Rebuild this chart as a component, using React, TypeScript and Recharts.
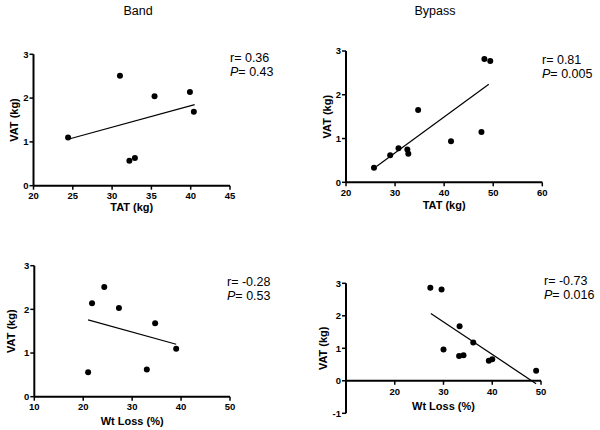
import { ScatterChart, Scatter, XAxis, YAxis, ReferenceLine, ReferenceDot } from 'recharts'

type Pt = { x: number; y: number }

const FONT = '"Liberation Sans", Arial, sans-serif'

// Band, VAT vs TAT
const bandTat: Pt[] = [
  { x: 24.4, y: 1.1 }, { x: 31.0, y: 2.51 }, { x: 32.2, y: 0.57 }, { x: 32.9, y: 0.63 },
  { x: 35.4, y: 2.04 }, { x: 39.9, y: 2.14 }, { x: 40.4, y: 1.69 },
]
const bandTatFit: Pt[] = [{ x: 24.4, y: 1.06 }, { x: 40.5, y: 1.85 }]

// Bypass, VAT vs TAT
const bypassTat: Pt[] = [
  { x: 25.7, y: 0.33 }, { x: 29.0, y: 0.62 }, { x: 30.7, y: 0.78 }, { x: 32.5, y: 0.75 },
  { x: 32.7, y: 0.65 }, { x: 34.7, y: 1.65 }, { x: 41.4, y: 0.94 }, { x: 47.6, y: 1.15 },
  { x: 48.2, y: 2.82 }, { x: 49.4, y: 2.77 },
]
const bypassTatFit: Pt[] = [{ x: 26.2, y: 0.36 }, { x: 49.1, y: 2.24 }]

// Band, VAT vs Wt loss
const bandLoss: Pt[] = [
  { x: 21.0, y: 0.56 }, { x: 21.8, y: 2.14 }, { x: 24.3, y: 2.51 }, { x: 27.3, y: 2.03 },
  { x: 33.0, y: 0.62 }, { x: 34.7, y: 1.68 }, { x: 39.0, y: 1.1 },
]
const bandLossFit: Pt[] = [{ x: 21.0, y: 1.76 }, { x: 39.0, y: 1.2 }]

// Bypass, VAT vs Wt loss
const bypassLoss: Pt[] = [
  { x: 27.3, y: 2.86 }, { x: 29.6, y: 2.81 }, { x: 30.0, y: 0.96 }, { x: 33.3, y: 1.68 },
  { x: 33.2, y: 0.76 }, { x: 34.1, y: 0.79 }, { x: 36.1, y: 1.18 }, { x: 39.3, y: 0.62 },
  { x: 40.0, y: 0.66 }, { x: 49.0, y: 0.31 },
]
const bypassLossFit: Pt[] = [{ x: 27.4, y: 2.07 }, { x: 49.0, y: -0.09 }]

const tatBandTicks = [20, 25, 30, 35, 40, 45]
const tatBypassTicks = [20, 30, 40, 50, 60]
const lossBandTicks = [10, 20, 30, 40, 50]
const lossBypassTicks = [20, 30, 40, 50]
const vatTicks = [0, 1, 2, 3]
const vatTicksNeg = [-1, 0, 1, 2, 3]

const axisLine = { stroke: '#000', strokeWidth: 2 }
const tickLine = { stroke: '#000', strokeWidth: 1.5 }
const tickStyle = { fill: '#000', fontSize: 9.5, fontWeight: 'bold', fontFamily: FONT }
const labelStyle = { fill: '#000', fontSize: 11, fontWeight: 'bold', fontFamily: FONT }

const dot = (p: any) => <circle cx={p.cx} cy={p.cy} r={3} fill="#000" />
const noDot = () => <g />

function Panel(props: {
  left: number; top: number; width: number; height: number
  margin: { top: number; right: number; bottom: number; left: number }
  points: Pt[]; fit: Pt[]
  xDomain: number[]; xTicks: number[]; xLabel: string; xLabelOffset: number; xHeight: number
  yDomain: number[]; yTicks: number[]; yLabelOffset: number
  zeroAxis?: boolean
}) {
  const p = props
  const z = !!p.zeroAxis
  return (
    <div style={{ position: 'absolute', left: p.left, top: p.top }}>
      <ScatterChart width={p.width} height={p.height} margin={p.margin}>
        <XAxis
          type="number" dataKey="x" domain={p.xDomain} ticks={p.xTicks} allowDataOverflow interval={0}
          height={p.xHeight}
          axisLine={z ? false : axisLine} tickLine={z ? false : tickLine} tick={z ? false : tickStyle}
          tickSize={4} tickMargin={3}
          label={z ? undefined : { value: p.xLabel, position: 'insideBottom', offset: p.xLabelOffset, style: labelStyle }}
        />
        <YAxis
          type="number" dataKey="y" domain={p.yDomain} ticks={p.yTicks} width={26} allowDataOverflow interval={0}
          axisLine={axisLine} tickLine={tickLine} tick={tickStyle} tickSize={4} tickMargin={1}
          label={{ value: 'VAT (kg)', angle: -90, position: 'insideLeft', offset: p.yLabelOffset, style: { ...labelStyle, textAnchor: 'middle' } }}
        />
        {z && (
          <ReferenceLine
            y={0} stroke="#000" strokeWidth={2}
            label={{ value: p.xLabel, position: 'bottom', offset: 21, style: labelStyle }}
          />
        )}
        {z && p.xTicks.map((t) => (
          <ReferenceDot
            key={t} x={t} y={0} r={0}
            shape={(s: any) => (
              <g>
                <line x1={s.cx} y1={s.cy} x2={s.cx} y2={s.cy + 4} stroke="#000" strokeWidth={1.5} />
                <text x={s.cx} y={s.cy + 14} textAnchor="middle" style={tickStyle}>{t}</text>
              </g>
            )}
          />
        ))}
        <Scatter data={p.fit} shape={noDot} line={{ stroke: '#000', strokeWidth: 1.2 }} isAnimationActive={false} />
        <Scatter data={p.points} shape={dot} isAnimationActive={false} />
      </ScatterChart>
    </div>
  )
}

function Stats({ x, y, r, pv }: { x: number; y: number; r: string; pv: string }) {
  return (
    <g>
      <text x={x} y={y}>r= {r}</text>
      <text x={x} y={y + 14}><tspan fontStyle="italic">P</tspan>= {pv}</text>
    </g>
  )
}

export default function App() {
  return (
    <div style={{ position: 'absolute', left: 0, top: 0, width: 600, height: 430, background: '#fff', fontFamily: FONT }}>
      <Panel
        left={0} top={0} width={300} height={215.7}
        margin={{ top: 54.3, right: 70, bottom: 0, left: 7.5 }}
        points={bandTat} fit={bandTatFit}
        xDomain={[20, 45]} xTicks={tatBandTicks} xLabel="TAT (kg)" xLabelOffset={4.7} xHeight={30}
        yDomain={[0, 3]} yTicks={vatTicks} yLabelOffset={7}
      />
      <Panel
        left={300} top={0} width={300} height={212.3}
        margin={{ top: 51, right: 57.7, bottom: 0, left: 20 }}
        points={bypassTat} fit={bypassTatFit}
        xDomain={[20, 60]} xTicks={tatBypassTicks} xLabel="TAT (kg)" xLabelOffset={3.3} xHeight={30}
        yDomain={[0, 3]} yTicks={vatTicks} yLabelOffset={7.5}
      />
      <Panel
        left={0} top={215} width={300} height={213.7}
        margin={{ top: 50.7, right: 70, bottom: 0, left: 8.3 }}
        points={bandLoss} fit={bandLossFit}
        xDomain={[10, 50]} xTicks={lossBandTicks} xLabel="Wt Loss (%)" xLabelOffset={3.4} xHeight={32}
        yDomain={[0, 3]} yTicks={vatTicks} yLabelOffset={3}
      />
      <Panel
        left={300} top={215} width={300} height={210}
        margin={{ top: 68.3, right: 59, bottom: 10.7, left: 20 }}
        points={bypassLoss} fit={bypassLossFit}
        xDomain={[10, 50]} xTicks={lossBypassTicks} xLabel="Wt Loss (%)" xLabelOffset={0} xHeight={1}
        yDomain={[-1, 3]} yTicks={vatTicksNeg} yLabelOffset={3} zeroAxis
      />
      <svg width={600} height={430} style={{ position: 'absolute', left: 0, top: 0, pointerEvents: 'none' }}
        fontFamily={FONT} fontSize={12.5} fill="#000">
        <text x={138} y={15} textAnchor="middle">Band</text>
        <text x={435} y={14.5} textAnchor="middle">Bypass</text>
        <Stats x={230} y={61.5} r="0.36" pv="0.43" />
        <Stats x={542} y={63.5} r="0.81" pv="0.005" />
        <Stats x={227} y={285.5} r="-0.28" pv="0.53" />
        <Stats x={544} y={285} r="-0.73" pv="0.016" />
      </svg>
    </div>
  )
}
